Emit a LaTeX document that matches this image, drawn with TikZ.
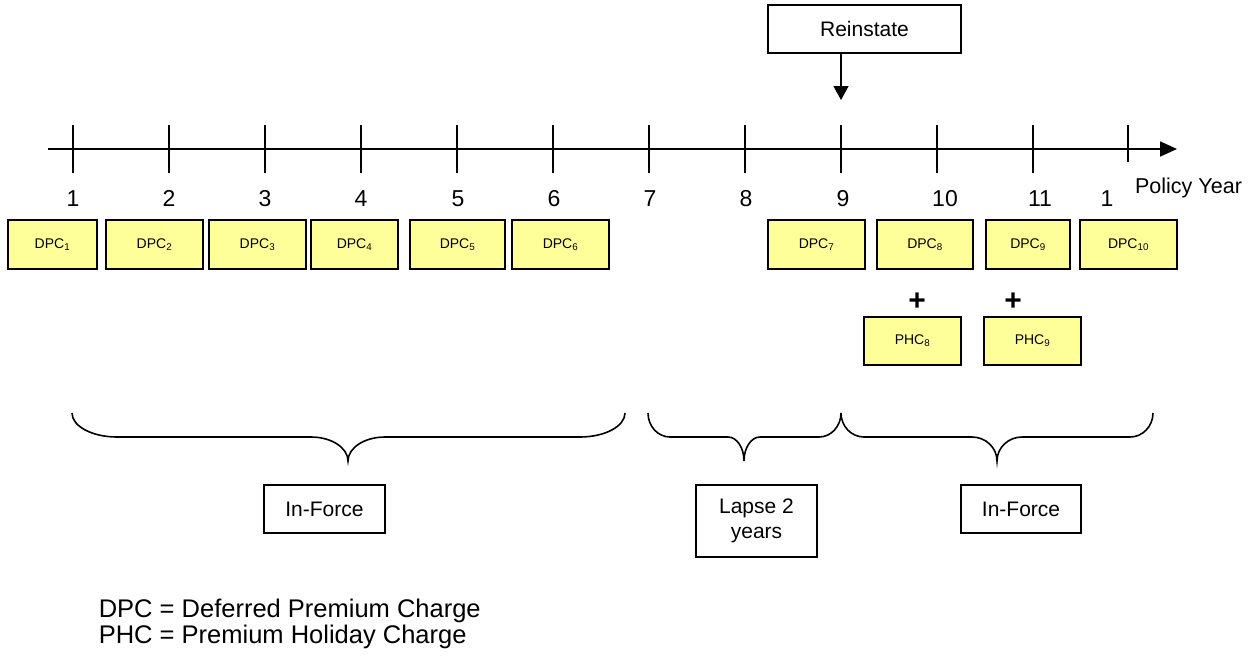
\documentclass[tikz,border=0pt]{standalone}
\usepackage{fontspec}
\setmainfont{Liberation Sans}
\usetikzlibrary{arrows.meta}
\definecolor{chargefill}{HTML}{FFFF99}

% curly brace: left end, tip, right end, end curl, tip curl
\newcommand\timelinebrace[5]{%
  \draw (#1,413) .. controls (#1,426.25) and ({#1+0.448*#4},437) .. ({#1+#4},437)
    -- ({#2-#5},437) .. controls ({#2-0.448*#5},437) and (#2,447.75) .. (#2,461)
    .. controls (#2,447.75) and ({#2+0.448*#5},437) .. ({#2+#5},437)
    -- ({#3-#4},437) .. controls ({#3-0.448*#4},437) and (#3,426.25) .. (#3,413);}

\begin{document}
\begin{tikzpicture}[x=1pt,y=-1pt,line width=1.6pt,
  charge/.style={draw,fill=chargefill,minimum height=49pt,inner sep=0pt,
    font=\fontsize{14}{16}\selectfont},
  labelbox/.style={draw,fill=white,inner sep=0pt,align=center,
    font=\fontsize{21}{25}\selectfont},
  yearlabel/.style={anchor=base,font=\fontsize{23}{27}\selectfont},
  plussign/.style={anchor=base,font=\bfseries\fontsize{30}{32}\selectfont},
  legendtext/.style={anchor=base west,inner sep=0pt,font=\fontsize{25.5}{27}\selectfont},
  pointer/.style={-{Triangle[length=14pt,width=15pt]}}]
\useasboundingbox (0,0) rectangle (1250,657);

% time axis with yearly ticks
\coordinate (axstart) at (48,149);
\coordinate (axend) at (1177,149);
\draw[-{Triangle[length=17pt,width=15pt]}] (axstart) -- (axend);
\foreach \x in {73,169,...,1033} \draw (\x,125) -- (\x,173);
\draw (1128,125) -- (1128,162);

% year numbers
\foreach \x/\t [count=\i] in {73/1,169/2,265/3,361/4,458/5,554/6,650/7,746/8,843/9,945/10,1040/11,1107/1}
  \node[yearlabel] (year\i) at (\x,206) {\t};
\node[anchor=base west,font=\fontsize{21.5}{25}\selectfont] (policyyear) at (1131,193) {Policy Year};

% reinstatement marker
\node[labelbox,minimum width=193pt,minimum height=48pt] (reinstate) at (864.5,29) {Reinstate};
\coordinate (reinstatepoint) at (841,100);
\draw[pointer] (reinstate.south -| reinstatepoint) -- (reinstatepoint);

% deferred premium charges
\node[charge,minimum width=89pt] (dpc1) at (52.5,244.5) {DPC\textsubscript{1}};
\node[charge,minimum width=97pt] (dpc2) at (154.5,244.5) {DPC\textsubscript{2}};
\node[charge,minimum width=97pt] (dpc3) at (257.5,244.5) {DPC\textsubscript{3}};
\node[charge,minimum width=87pt] (dpc4) at (354.5,244.5) {DPC\textsubscript{4}};
\node[charge,minimum width=95pt] (dpc5) at (457.5,244.5) {DPC\textsubscript{5}};
\node[charge,minimum width=97pt] (dpc6) at (560.5,244.5) {DPC\textsubscript{6}};
\node[charge,minimum width=97pt] (dpc7) at (816.5,244.5) {DPC\textsubscript{7}};
\node[charge,minimum width=96pt] (dpc8) at (925,244.5) {DPC\textsubscript{8}};
\node[charge,minimum width=84pt] (dpc9) at (1028,244.5) {DPC\textsubscript{9}};
\node[charge,minimum width=97pt] (dpc10) at (1128.5,244.5) {DPC\textsubscript{10}};

% premium holiday charges
\node[plussign] (plus8) at (917,310) {+};
\node[plussign] (plus9) at (1013,310) {+};
\node[charge,minimum width=97pt,minimum height=48pt] (phc8) at (912.5,341) {PHC\textsubscript{8}};
\node[charge,minimum width=97pt,minimum height=48pt] (phc9) at (1032.5,341) {PHC\textsubscript{9}};

% policy status periods
\timelinebrace{72}{348}{625}{45}{37}
\timelinebrace{648}{744}{841}{22}{16}
\timelinebrace{841}{997}{1153}{23}{25}
\node[labelbox,minimum width=121pt,minimum height=48pt] (inforce1) at (324.5,509) {In-Force};
\node[labelbox,minimum width=121pt,minimum height=72pt] (lapse) at (756.5,521) {Lapse 2\\years};
\node[labelbox,minimum width=120pt,minimum height=48pt] (inforce2) at (1021,509) {In-Force};

% legend
\node[legendtext] (legenddpc) at (98,617) {DPC = Deferred Premium Charge};
\node[legendtext] (legendphc) at (98,643) {PHC = Premium Holiday Charge};
\end{tikzpicture}
\end{document}
